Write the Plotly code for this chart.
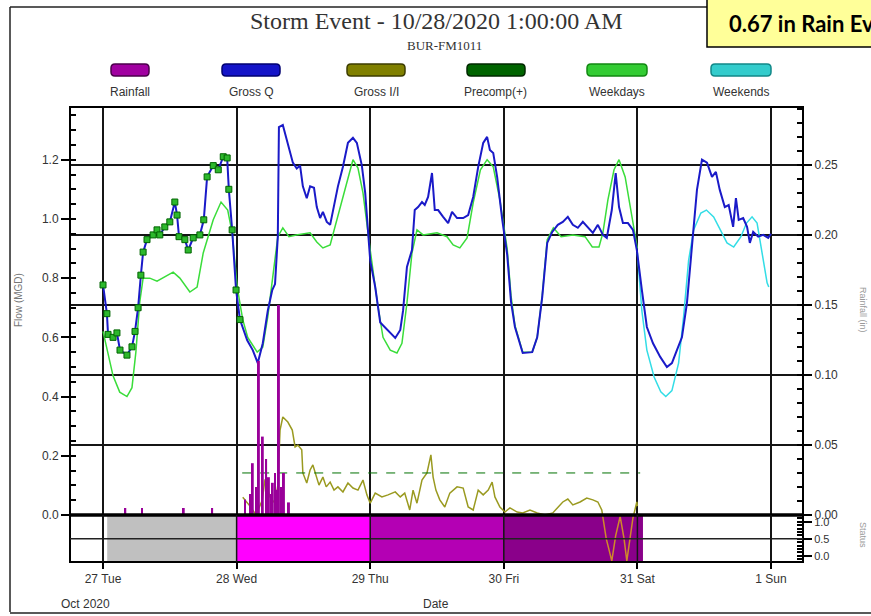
import plotly.graph_objects as go
import pandas as pd

# ---------------- data ----------------
T0 = pd.Timestamp("2020-10-27 00:00")

gq_hours = [0.0,0.7,0.9,1.8,2.5,3.05,4.3,5.2,5.75,6.3,
            6.8,7.2,7.9,9.0,9.7,10.2,11.1,12.0,12.9,13.3,
            13.65,14.7,15.3,16.2,17.4,18.1,18.7,19.8,20.7,21.6,
            22.3,22.6,23.2,23.9,24.6,25.9,26.9,27.8,28.7,29.6,
            30.4,30.9,31.4,31.6,32.3,33.2,34.1,34.8,35.4,35.9,
            36.6,37.2,37.9,38.4,39.0,39.5,40.2,40.8,41.3,42.2,
            43.1,44.0,44.9,45.6,46.5,47.1,48.0,48.9,49.8,50.7,
            51.6,52.5,53.4,53.9,54.6,55.5,56.0,56.6,57.3,57.8,
            58.4,59.1,59.6,60.2,61.1,62.0,62.7,63.6,64.7,65.6,
            66.5,67.4,68.3,69.0,69.5,70.1,70.8,71.7,72.6,73.3,
            74.0,75.4,77.1,78.0,78.9,79.8,80.7,81.7,82.6,83.5,
            84.4,85.3,86.2,87.1,88.0,88.9,89.8,90.5,91.4,92.1,
            92.7,93.4,94.3,95.2,95.9,96.8,97.7,98.8,100.1,101.3,
            102.2,103.1,104.0,104.9,105.8,106.7,107.6,108.5,109.4,110.1,
            110.8,111.7,112.4,113.2,113.7,114.2,115.0,115.7,116.2,116.8,
            117.7,118.6,119.5,120.0]
gq_vals = [0.777,0.68,0.61,0.60,0.615,0.557,0.54,0.568,0.62,0.70,
           0.81,0.888,0.93,0.946,0.963,0.946,0.973,0.99,1.057,1.013,
           0.94,0.93,0.895,0.936,0.946,0.997,1.142,1.18,1.166,1.21,
           1.206,1.10,0.963,0.76,0.66,0.59,0.557,0.513,0.58,0.69,
           0.76,0.78,0.94,1.31,1.317,1.257,1.19,1.17,1.18,1.11,
           1.07,1.11,1.105,1.04,1.003,1.024,0.99,0.98,1.03,1.11,
           1.176,1.257,1.274,1.257,1.18,1.088,0.86,0.77,0.65,0.632,
           0.615,0.598,0.625,0.69,0.838,0.895,1.03,1.04,1.057,1.047,
           1.074,1.155,1.03,1.03,1.007,0.986,1.024,1.003,1.003,1.013,
           1.074,1.176,1.257,1.277,1.233,1.223,1.142,1.00,0.88,0.72,
           0.635,0.547,0.55,0.60,0.736,0.919,0.956,0.98,0.99,1.007,
           0.98,0.97,0.99,0.973,0.953,0.98,0.946,0.936,1.03,1.155,
           1.04,0.986,0.986,0.963,0.895,0.76,0.635,0.58,0.534,0.50,
           0.513,0.557,0.60,0.716,0.919,1.098,1.2,1.19,1.142,1.159,
           1.098,1.04,1.047,0.973,1.07,0.997,1.003,0.973,0.919,0.956,
           0.94,0.946,0.936,0.95]
precomp_end_hour = 24.6  # Gross Q points up to here carry Precomp(+) markers

wd_hours = [0.0,0.9,1.8,3.0,4.3,5.2,5.9,6.6,7.2,8.4,
            9.7,12.6,13.8,15.6,16.9,18.0,19.8,21.2,22.4,23.2,
            24.1,25.1,26.0,27.7,28.7,29.6,30.5,31.4,32.3,33.4,
            34.7,37.2,38.4,39.5,40.8,42.0,43.5,44.9,45.8,46.7,
            48.0,49.3,50.3,51.6,52.8,53.7,54.6,55.5,56.4,57.5,
            60.0,61.8,62.9,64.1,65.4,66.5,67.8,69.0,70.1,71.3,
            72.6,73.3,74.0,75.4,77.1,78.0,78.9,79.8,80.9,82.3,
            84.4,86.6,87.9,89.1,89.8,90.7,91.8,92.7,93.8,94.7,
            95.6,96.0]
wd_vals = [0.62,0.55,0.47,0.415,0.40,0.43,0.55,0.72,0.80,0.80,
           0.79,0.82,0.80,0.753,0.77,0.885,0.997,1.057,1.03,0.953,
           0.77,0.66,0.60,0.55,0.567,0.67,0.80,0.94,0.97,0.94,
           0.946,0.953,0.922,0.902,0.912,0.997,1.108,1.2,1.172,1.088,
           0.895,0.716,0.60,0.557,0.547,0.58,0.716,0.885,0.963,0.946,
           0.953,0.94,0.912,0.902,0.936,1.054,1.166,1.2,1.176,1.064,
           0.90,0.74,0.64,0.55,0.55,0.60,0.74,0.93,0.97,0.94,
           0.946,0.94,0.905,0.905,0.953,1.064,1.166,1.2,1.142,1.04,
           0.953,0.90]

we_hours = [96.0,96.8,97.7,99.0,100.2,101.1,102.2,103.4,104.3,105.2,
            106.1,107.4,108.4,109.7,110.9,112.1,113.3,114.6,115.6,116.6,
            117.5,118.4,119.3,119.6]
we_vals = [0.885,0.69,0.557,0.466,0.416,0.40,0.42,0.513,0.67,0.86,
           0.963,1.02,1.03,1.007,0.963,0.919,0.905,0.94,0.986,1.007,
           0.986,0.885,0.784,0.77]

gii_hours = [25.1,26.4,27.5,28.6,29.1,30.0,30.9,31.4,31.8,32.3,
             33.2,34.0,34.5,35.0,35.7,35.9,36.6,37.2,37.7,38.3,
             38.8,39.5,40.1,40.8,41.5,42.2,43.1,44.0,44.9,45.8,
             46.7,47.4,48.0,48.9,50.1,51.2,52.5,53.4,54.2,55.1,
             55.7,56.4,57.3,58.2,58.9,59.3,59.8,60.5,61.4,62.3,
             63.6,64.7,65.6,66.5,67.4,68.3,69.2,69.9,70.4,71.3,
             72.2,73.1,74.4,75.4,76.7,78.0,79.4,80.8,81.7,82.6,
             83.5,84.4,85.7,86.9,88.0,88.9,89.6,89.8,90.4,91.4,
             92.1,92.9,93.6,94.1,94.7,95.2,95.9,96.0]
gii_vals = [0.06,0.03,0.0,0.05,0.12,0.06,0.04,0.10,0.287,0.331,
            0.314,0.287,0.23,0.236,0.22,0.142,0.108,0.152,0.169,0.128,
            0.101,0.128,0.095,0.111,0.084,0.095,0.078,0.108,0.091,0.084,
            0.118,0.068,0.04,0.074,0.061,0.068,0.078,0.061,0.074,0.017,
            0.084,0.04,0.118,0.142,0.203,0.128,0.084,0.051,0.027,0.074,
            0.095,0.091,0.027,0.017,0.084,0.068,0.084,0.111,0.061,0.027,
            0.01,0.024,0.01,0.007,0.017,0.007,0.0,0.007,0.027,0.044,
            0.054,0.034,0.044,0.057,0.051,0.044,0.017,-0.01,-0.08,-0.155,
            -0.07,-0.005,-0.08,-0.155,-0.08,-0.01,0.044,0.03]

precomp_level_times = ["2020-10-28 01:00", "2020-10-31 00:30"]
precomp_level = 0.142

rain_hours = [4.0,7.0,14.5,19.6,25.5,26.4,26.9,27.5,28.0,28.7,
              29.3,29.8,30.2,30.5,30.9,31.3,31.6,32.0,32.5,33.4]
rain_vals = [0.005,0.005,0.005,0.005,0.011,0.015,0.037,0.02,0.11,0.056,
             0.04,0.027,0.015,0.023,0.03,0.018,0.15,0.02,0.03,0.009]

status_starts = ["2020-10-27 00:45", "2020-10-28 00:00", "2020-10-29 00:00", "2020-10-30 00:00"]
status_ends = ["2020-10-28 00:00", "2020-10-29 00:00", "2020-10-30 00:00", "2020-10-31 01:00"]
status_colors = ["#C0C0C0", "#FF00FF", "#B400B4", "#8A008A"]
status_level = 1.0

day_ticks = ["2020-10-27", "2020-10-28", "2020-10-29", "2020-10-30", "2020-10-31", "2020-11-01"]
day_labels = ["27 Tue", "28 Wed", "29 Thu", "30 Fri", "31 Sat", "1 Sun"]

legend_names = ["Rainfall", "Gross Q", "Gross I/I", "Precomp(+)", "Weekdays", "Weekends"]
legend_fill = ["#A000A0", "#1414C8", "#808000", "#006400", "#33CC33", "#33CCCC"]
legend_edge = ["#4B004B", "#000070", "#3C3C00", "#002800", "#128812", "#128888"]

# ---------------- helpers ----------------
def to_time(hours):
    return [T0 + pd.Timedelta(hours=h) for h in hours]

PL, PR, PT, PB = 70, 803, 107, 562
def px(x):
    return (x - PL) / (PR - PL)
def py(y):
    return (PB - y) / (PB - PT)

BAND = py(515)

fig = go.Figure()

# status band
s0 = pd.to_datetime(status_starts)
s1 = pd.to_datetime(status_ends)
centers = [a + (b - a) / 2 for a, b in zip(s0, s1)]
widths = [(b - a).total_seconds() * 1000 for a, b in zip(s0, s1)]
fig.add_trace(go.Bar(x=centers, y=[status_level + 0.38] * len(centers), base=-0.18,
                     width=widths, marker=dict(color=status_colors, line=dict(width=0)),
                     xaxis="x", yaxis="y3", hoverinfo="skip"))

# Gross I/I negative excursion into band
fig.add_trace(go.Scatter(x=to_time(gii_hours), y=gii_vals, mode="lines",
                         line=dict(color="#D08A2A", width=1.5), xaxis="x", yaxis="y4"))

# main panel
fig.add_trace(go.Scatter(x=to_time(gii_hours), y=gii_vals, mode="lines",
                         line=dict(color="#9A9A20", width=1.5), xaxis="x", yaxis="y"))
fig.add_trace(go.Scatter(x=pd.to_datetime(precomp_level_times), y=[precomp_level] * 2, mode="lines",
                         line=dict(color="#007000", width=1, dash="dash"), xaxis="x", yaxis="y"))
fig.add_trace(go.Scatter(x=to_time(wd_hours), y=wd_vals, mode="lines",
                         line=dict(color="#3ADD3A", width=1.5), xaxis="x", yaxis="y"))
fig.add_trace(go.Scatter(x=to_time(we_hours), y=we_vals, mode="lines",
                         line=dict(color="#33DDE6", width=1.5), xaxis="x", yaxis="y"))
fig.add_trace(go.Scatter(x=to_time(gq_hours), y=gq_vals, mode="lines",
                         line=dict(color="#1A1AC8", width=2), xaxis="x", yaxis="y"))
pc_h = [h for h in gq_hours if h <= precomp_end_hour]
pc_v = gq_vals[:len(pc_h)]
fig.add_trace(go.Scatter(x=to_time(pc_h), y=pc_v, mode="markers",
                         marker=dict(symbol="square", size=6, color="#2DB82D",
                                     line=dict(color="#006400", width=1)),
                         xaxis="x", yaxis="y"))

# rainfall
fig.add_trace(go.Bar(x=to_time(rain_hours), y=rain_vals, width=0.35 * 3600 * 1000,
                     marker=dict(color="#990099", line=dict(width=0)),
                     xaxis="x", yaxis="y2", hoverinfo="skip"))

tickfont = dict(family="Liberation Sans Narrow, Liberation Sans, Arial", size=12, color="#333")
bandfont = dict(family="Liberation Sans Narrow, Liberation Sans, Arial", size=11, color="#333")

fig.update_layout(
    width=871, height=616,
    margin=dict(l=PL, r=871 - PR, t=PT, b=616 - PB),
    paper_bgcolor="white", plot_bgcolor="white",
    showlegend=False, barmode="overlay",
    font=tickfont,
    xaxis=dict(type="date", domain=[0, 1], anchor="y3",
               range=["2020-10-26 18:04", "2020-11-01 05:45"],
               tickmode="array", tickvals=day_ticks, ticktext=day_labels,
               ticks="outside", ticklen=6, tickwidth=1.5, tickcolor="black",
               showgrid=True, gridcolor="#151515", gridwidth=1.5,
               showline=False, zeroline=False, tickfont=tickfont),
    yaxis=dict(domain=[BAND, 1], anchor="x", range=[0, 1.378],
               tick0=0, dtick=0.2, tickformat=".1f",
               ticks="outside", ticklen=8, tickwidth=1.5, tickcolor="black",
               minor=dict(dtick=0.05, tick0=0, ticks="inside", ticklen=6, tickcolor="black", showgrid=False),
               showgrid=False, zeroline=False, showline=False, tickfont=tickfont),
    yaxis2=dict(overlaying="y", side="right", anchor="x", range=[0, 0.2914],
                tick0=0, dtick=0.05, tickformat=".2f",
                ticks="outside", ticklen=8, tickwidth=1.5, tickcolor="black",
                minor=dict(dtick=0.01, tick0=0, ticks="inside", ticklen=6, tickcolor="black", showgrid=False),
                showgrid=True, gridcolor="#151515", gridwidth=1.5,
                zeroline=False, showline=False, tickfont=tickfont),
    yaxis3=dict(domain=[0, BAND], anchor="x", side="right", range=[-0.18, 1.2],
                tickmode="array", tickvals=[0, 0.5, 1.0], ticktext=["0.0", "0.5", "1.0"],
                ticks="outside", ticklen=8, tickwidth=1.5, tickcolor="black",
                minor=dict(dtick=0.1, tick0=0, ticks="inside", ticklen=6, tickcolor="black", showgrid=False),
                showgrid=False, zeroline=False, showline=False, tickfont=bandfont),
    yaxis4=dict(overlaying="y3", range=[-0.159, 0], visible=False),
)

shapes = []
# frames
shapes.append(dict(type="rect", xref="paper", yref="paper", x0=0, x1=1, y0=0, y1=1,
                   line=dict(color="black", width=2), layer="above"))
shapes.append(dict(type="line", xref="paper", yref="paper", x0=0, x1=1, y0=BAND, y1=BAND,
                   line=dict(color="black", width=3.5), layer="above"))
shapes.append(dict(type="line", xref="paper", yref="y3", x0=0, x1=1, y0=0.5, y1=0.5,
                   line=dict(color="#222", width=1.5), layer="above"))
for d in day_ticks:
    shapes.append(dict(type="line", xref="x", yref="paper", x0=d, x1=d, y0=0, y1=BAND,
                       line=dict(color="#151515", width=1.5), layer="above"))
# outer border of the picture
shapes.append(dict(type="line", xref="paper", yref="paper", x0=px(10), x1=px(707), y0=py(7), y1=py(7),
                   line=dict(color="#222", width=1.5)))
shapes.append(dict(type="line", xref="paper", yref="paper", x0=px(10), x1=px(10), y0=py(7), y1=py(612),
                   line=dict(color="#222", width=1.5)))
shapes.append(dict(type="line", xref="paper", yref="paper", x0=px(10), x1=px(875), y0=py(613), y1=py(613),
                   line=dict(color="#222", width=1.5)))
# rain-total box
shapes.append(dict(type="rect", xref="paper", yref="paper", x0=px(707), x1=px(900), y0=py(47), y1=py(-5),
                   fillcolor="#FFFF99", line=dict(color="black", width=1.5)))

# legend pills
def pill(xc, yc, w, h, r=4):
    x0, x1 = xc - w / 2, xc + w / 2
    y0, y1 = yc - h / 2, yc + h / 2
    return (f"M {px(x0 + r)},{py(y0)} L {px(x1 - r)},{py(y0)} Q {px(x1)},{py(y0)} {px(x1)},{py(y0 + r)} "
            f"L {px(x1)},{py(y1 - r)} Q {px(x1)},{py(y1)} {px(x1 - r)},{py(y1)} "
            f"L {px(x0 + r)},{py(y1)} Q {px(x0)},{py(y1)} {px(x0)},{py(y1 - r)} "
            f"L {px(x0)},{py(y0 + r)} Q {px(x0)},{py(y0)} {px(x0 + r)},{py(y0)} Z")

leg_x = [130, 251, 376, 496, 617, 741]
leg_w = [38, 58, 58, 58, 60, 60]
annotations = []
for name, fc, ec, xc, w in zip(legend_names, legend_fill, legend_edge, leg_x, leg_w):
    shapes.append(dict(type="path", xref="paper", yref="paper", path=pill(xc, 70, w, 12),
                       fillcolor=fc, line=dict(color=ec, width=1.5)))
    annotations.append(dict(x=px(xc), y=py(92), xref="paper", yref="paper", text=name,
                            showarrow=False, xanchor="center", yanchor="middle",
                            font=dict(family="Liberation Sans Narrow, Liberation Sans, Arial", size=12, color="#333")))

annotations += [
    dict(x=px(436), y=py(21), xref="paper", yref="paper", text="Storm Event - 10/28/2020 1:00:00 AM",
         showarrow=False, xanchor="center", yanchor="middle",
         font=dict(family="Liberation Serif, Times New Roman", size=24, color="#333")),
    dict(x=px(444), y=py(45), xref="paper", yref="paper", text="BUR-FM1011",
         showarrow=False, xanchor="center", yanchor="middle",
         font=dict(family="Liberation Serif, Times New Roman", size=13, color="#333")),
    dict(x=px(727), y=py(24), xref="paper", yref="paper", text="<b>0.67 in Rain Event</b>",
         showarrow=False, xanchor="left", yanchor="middle",
         font=dict(family="Lato, Open Sans, Liberation Sans", size=22, color="black")),
    dict(x=px(18), y=py(300), xref="paper", yref="paper", text="Flow (MGD)", textangle=-90,
         showarrow=False, xanchor="center", yanchor="middle",
         font=dict(family="Liberation Sans, Arial", size=10, color="#777")),
    dict(x=px(863), y=py(310), xref="paper", yref="paper", text="Rainfall (in)", textangle=90,
         showarrow=False, xanchor="center", yanchor="middle",
         font=dict(family="Liberation Sans, Arial", size=9, color="#999")),
    dict(x=px(863), y=py(535), xref="paper", yref="paper", text="Status", textangle=90,
         showarrow=False, xanchor="center", yanchor="middle",
         font=dict(family="Liberation Sans, Arial", size=9, color="#999")),
    dict(x=px(85), y=py(604), xref="paper", yref="paper", text="Oct 2020",
         showarrow=False, xanchor="center", yanchor="middle", font=tickfont),
    dict(x=px(436), y=py(604), xref="paper", yref="paper", text="Date",
         showarrow=False, xanchor="center", yanchor="middle", font=tickfont),
]

fig.update_layout(shapes=shapes, annotations=annotations)
fig.write_html("out.html",
               config={"displayModeBar": False},
               post_script="document.body.style.margin='0';document.body.style.overflow='hidden';")
